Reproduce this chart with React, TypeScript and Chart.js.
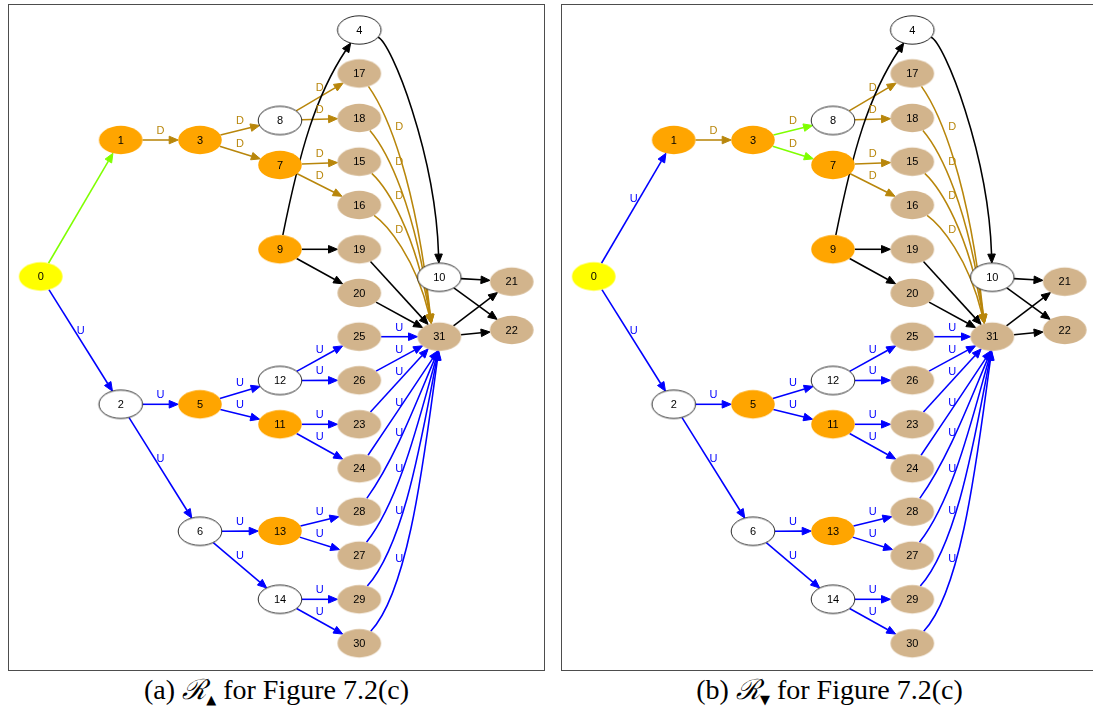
import React, { useEffect, useRef } from 'react';
import { Chart, registerables } from 'chart.js';

Chart.register(...registerables);

// ---- graph data (layout units inside one panel) ----
const nodeIds = [0, 1, 2, 3, 4, 5, 6, 7, 8, 9, 10, 11, 12, 13, 14, 15, 16, 17, 18, 19, 20, 21, 22, 23, 24, 25, 26, 27, 28, 29, 30, 31];
const nodeX = [32.7, 112.7, 112.7, 192, 351.3, 192, 192, 272, 272, 272, 431.3, 272, 272, 272, 272, 351.3, 351.3, 351.3, 351.3, 351.3, 351.3, 503.7, 503.7, 351.3, 351.3, 351.3, 351.3, 351.3, 351.3, 351.3, 351.3, 431.3];
const nodeY = [272.5, 136, 400.3, 136, 26, 400.3, 527.3, 161, 116.5, 245.3, 273.3, 420.3, 376.5, 527, 595.3, 157.7, 201, 69.5, 114, 245.3, 289, 277.7, 326, 420.3, 464.3, 332.7, 376.3, 551.7, 507.7, 595.3, 639.3, 332.7];
const nodeKind = ['start', 'open', 'closed', 'open', 'closed', 'open', 'closed', 'open', 'closed', 'open', 'closed', 'open', 'closed', 'open', 'closed',
  'leaf', 'leaf', 'leaf', 'leaf', 'leaf', 'leaf', 'leaf', 'leaf', 'leaf', 'leaf', 'leaf', 'leaf', 'leaf', 'leaf', 'leaf', 'leaf', 'leaf'];

const edgeFrom = [0, 0, 1, 3, 3, 8, 8, 7, 7, 9, 9, 9, 4, 17, 18, 15, 16, 19, 20, 10, 10, 31, 31, 2, 2, 5, 5, 6, 6, 12, 12, 11, 11, 13, 13, 14, 14, 25, 26, 23, 24, 28, 27, 29, 30];
const edgeTo = [1, 2, 3, 8, 7, 17, 18, 15, 16, 4, 19, 20, 10, 31, 31, 31, 31, 31, 31, 21, 22, 21, 22, 5, 6, 12, 11, 13, 14, 25, 26, 23, 24, 28, 27, 29, 30, 31, 31, 31, 31, 31, 31, 31, 31];
const edgeLabelA = ['', 'U', 'D', 'D', 'D', 'D', 'D', 'D', 'D', '', '', '', '', 'D', 'D', 'D', 'D', '', '', '', '', '', '',
  'U', 'U', 'U', 'U', 'U', 'U', 'U', 'U', 'U', 'U', 'U', 'U', 'U', 'U', 'U', 'U', 'U', 'U', 'U', 'U', 'U', 'U'];
const edgeLabelB = ['U', 'U', 'D', 'D', 'D', 'D', 'D', 'D', 'D', '', '', '', '', 'D', 'D', 'D', 'D', '', '', '', '', '', '',
  'U', 'U', 'U', 'U', 'U', 'U', 'U', 'U', 'U', 'U', 'U', 'U', 'U', 'U', 'U', 'U', 'U', 'U', 'U', 'U', 'U', 'U'];
const highlightA = [[0, 1]];
const highlightB = [[3, 8], [3, 7]];

// ---- styles ----
const PANEL_W = 537;
const PANEL_H = 667;
const RX = 21.8;
const RY = 14.2;
const AL = 9;
const AW = 3.8;
const GOLD = '#B8860B';
const BLUE = '#0000FF';
const GREEN = '#7FFF00';
const FILL: Record<string, string> = { start: '#FFFF00', open: '#FFA500', closed: '#FFFFFF', leaf: '#D2B48C' };
const SANS = '"Liberation Sans", Arial, Helvetica, sans-serif';

type P = { x: number; y: number };

function nodeImage(kind: string): HTMLCanvasElement {
  const c = document.createElement('canvas');
  c.width = 48;
  c.height = 34;
  const g = c.getContext('2d')!;
  g.beginPath();
  g.ellipse(24, 17, RX, RY, 0, 0, Math.PI * 2);
  g.fillStyle = FILL[kind];
  g.fill();
  if (kind === 'closed') {
    g.lineWidth = 0.9;
    g.strokeStyle = '#111';
    g.stroke();
  }
  return c;
}

function clip(c: P, vx: number, vy: number): P {
  const t = 1 / Math.sqrt((vx / RX) ** 2 + (vy / RY) ** 2);
  return { x: c.x + vx * t, y: c.y + vy * t };
}

function bez(p0: P, p1: P, p2: P, p3: P, t: number): P {
  const u = 1 - t;
  const a = u * u * u, b = 3 * u * u * t, c = 3 * u * t * t, d = t * t * t;
  return { x: a * p0.x + b * p1.x + c * p2.x + d * p3.x, y: a * p0.y + b * p1.y + c * p2.y + d * p3.y };
}

const unit = (x: number, y: number): P => { const l = Math.hypot(x, y) || 1; return { x: x / l, y: y / l }; };
const lerp = (a: P, b: P, s: number): P => ({ x: a.x + (b.x - a.x) * s, y: a.y + (b.y - a.y) * s });

function labelOnCurve(start: P, cp1: P, cp2: P, base: P, targetX: number): number {
  let best = bez(start, cp1, cp2, base, 0.5);
  let bestD = Infinity;
  for (let t = 0; t <= 1; t += 0.005) {
    const p = bez(start, cp1, cp2, base, t);
    const d = Math.abs(p.x - targetX);
    if (d < bestD) { bestD = d; best = p; }
  }
  return best.y;
}

function edgeGeom(c0: P, c3: P, from: number, to: number) {
  const dx = c3.x - c0.x;
  const dy = c3.y - c0.y;
  const midX = (c0.x + c3.x) / 2;
  const fan = to === 31 && Math.abs(dy) > 1.2 * Math.abs(dx);
  if (fan && dy > 0) {
    // edges sweeping down into the top of the sink
    const cp1 = { x: c0.x + 0.35 * dx, y: c0.y + 0.15 * dy };
    const cp2 = { x: c3.x - 0.3 * dx, y: c3.y - 0.6 * dy };
    const start = clip(c0, cp1.x - c0.x, cp1.y - c0.y);
    const tip = clip(c3, -0.1 * dx, -0.165 * dx);
    const u = unit(cp2.x - tip.x, cp2.y - tip.y);
    const base = { x: tip.x + AL * u.x, y: tip.y + AL * u.y };
    const ly = labelOnCurve(start, cp1, cp2, base, midX - 10);
    return { curved: true, start, cp1, cp2, base, tip, label: { x: midX, y: ly } };
  }
  if (fan && dy < 0) {
    // edges rising into the bottom of the sink
    const s = Math.max(0, Math.min(1, (Math.abs(dy) - 130) / 175));
    const tip = clip(c3, -0.1 * dx, -0.55 * dy);
    const arc1 = { x: c0.x + 0.63 * dx, y: c0.y + 0.174 * dy };
    const arc2 = { x: c3.x - 0.18 * dx, y: c3.y - 0.37 * dy };
    const dA = unit(arc2.x - tip.x, arc2.y - tip.y);
    const dS = unit(c0.x - tip.x, c0.y - tip.y);
    const d = unit(dS.x + (dA.x - dS.x) * s, dS.y + (dA.y - dS.y) * s);
    const base = { x: tip.x + AL * d.x, y: tip.y + AL * d.y };
    const sv = lerp({ x: tip.x - c0.x, y: tip.y - c0.y }, { x: arc1.x - c0.x, y: arc1.y - c0.y }, s);
    const start = clip(c0, sv.x, sv.y);
    const st1 = lerp(start, base, 1 / 3);
    const st2 = lerp(start, base, 2 / 3);
    const cp1 = lerp(st1, arc1, s);
    const cp2 = lerp(st2, arc2, s);
    const ly = labelOnCurve(start, cp1, cp2, base, midX + 4);
    return { curved: true, start, cp1, cp2, base, tip, label: { x: midX, y: ly } };
  }
  let f: number[] | null = null;
  if (to === 4) f = [0.25, 0.45, 0.55, 0.3];
  else if (from === 4 && to === 10) f = [0.4, 0.05, 0.05, 0.5];
  if (!f) {
    const start = clip(c0, dx, dy);
    const tip = clip(c3, -dx, -dy);
    const len = Math.hypot(dx, dy);
    const base = { x: tip.x - (AL * dx) / len, y: tip.y - (AL * dy) / len };
    const ly = c0.y + (dy * (midX - c0.x)) / dx - 9;
    return { curved: false, start, cp1: start, cp2: base, base, tip, label: { x: midX, y: ly } };
  }
  const cp1 = { x: c0.x + f[0] * dx, y: c0.y + f[1] * dy };
  const cp2 = { x: c3.x - f[2] * dx, y: c3.y - f[3] * dy };
  const start = clip(c0, cp1.x - c0.x, cp1.y - c0.y);
  const tip = clip(c3, cp2.x - c3.x, cp2.y - c3.y);
  const u = unit(cp2.x - tip.x, cp2.y - tip.y);
  const base = { x: tip.x + AL * u.x, y: tip.y + AL * u.y };
  return { curved: true, start, cp1, cp2, base, tip, label: { x: midX, y: (c0.y + c3.y) / 2 } };
}

function GraphPanel({ left, labels, highlight }: { left: number; labels: string[]; highlight: number[][] }) {
  const ref = useRef<HTMLCanvasElement | null>(null);
  useEffect(() => {
    const canvas = ref.current!;
    const images: Record<string, HTMLCanvasElement> = {};
    ['start', 'open', 'closed', 'leaf'].forEach((k) => { images[k] = nodeImage(k); });
    const isHi = (i: number) => highlight.some(([a, b]) => a === edgeFrom[i] && b === edgeTo[i]);
    const edgeColor = (i: number) => (isHi(i) ? GREEN : labels[i] === 'D' ? GOLD : labels[i] === 'U' ? BLUE : '#000000');

    const geoms = (chart: any) => {
      const xs = chart.scales.x, ys = chart.scales.y;
      const pt = (id: number): P => ({ x: xs.getPixelForValue(nodeX[id]), y: ys.getPixelForValue(nodeY[id]) });
      return edgeFrom.map((from, i) => edgeGeom(pt(from), pt(edgeTo[i]), from, edgeTo[i]));
    };

    const borderPlugin = {
      id: 'panelBorder',
      afterDraw(chart: any) {
        const g = chart.ctx;
        g.save();
        g.strokeStyle = '#4d4d4d';
        g.lineWidth = 1;
        g.strokeRect(0.5, 0.5, chart.width - 1, chart.height - 1);
        g.restore();
      },
    };

    const edgePlugin = {
      id: 'edges',
      beforeDatasetsDraw(chart: any) {
        const g = chart.ctx;
        const gs = geoms(chart);
        g.save();
        gs.forEach((e, i) => {
          const col = edgeColor(i);
          g.strokeStyle = col;
          g.fillStyle = col;
          g.lineWidth = 1.55;
          g.beginPath();
          g.moveTo(e.start.x, e.start.y);
          if (e.curved) g.bezierCurveTo(e.cp1.x, e.cp1.y, e.cp2.x, e.cp2.y, e.base.x, e.base.y);
          else g.lineTo(e.base.x, e.base.y);
          g.stroke();
          const vx = e.tip.x - e.base.x, vy = e.tip.y - e.base.y;
          const vl = Math.hypot(vx, vy);
          const px = (-vy / vl) * AW, py = (vx / vl) * AW;
          g.beginPath();
          g.moveTo(e.tip.x, e.tip.y);
          g.lineTo(e.base.x + px, e.base.y + py);
          g.lineTo(e.base.x - px, e.base.y - py);
          g.closePath();
          g.fill();
          g.lineWidth = 1;
          g.stroke();
        });
        g.restore();
      },
      afterDatasetsDraw(chart: any) {
        const g = chart.ctx;
        const gs = geoms(chart);
        g.save();
        g.textAlign = 'center';
        g.textBaseline = 'middle';
        g.font = `11px ${SANS}`;
        gs.forEach((e, i) => {
          const t = labels[i];
          if (!t) return;
          g.fillStyle = t === 'D' ? GOLD : BLUE;
          g.fillText(t, e.label.x, e.label.y);
        });
        const meta = chart.getDatasetMeta(0);
        g.fillStyle = '#000000';
        g.font = `11px ${SANS}`;
        meta.data.forEach((el: any, i: number) => {
          g.fillText(String(nodeIds[i]), el.x, el.y + 0.5);
        });
        g.restore();
      },
    };

    const chart = new Chart(canvas, {
      type: 'scatter',
      data: {
        datasets: [
          {
            data: nodeIds.map((_, i) => ({ x: nodeX[i], y: nodeY[i] })),
            pointStyle: nodeIds.map((_, i) => images[nodeKind[i]]) as any,
            pointRadius: 20,
            pointHoverRadius: 20,
            clip: false as any,
          },
        ],
      },
      options: {
        animation: false,
        responsive: false,
        maintainAspectRatio: false,
        events: [],
        layout: { padding: 0, autoPadding: false } as any,
        scales: {
          x: { type: 'linear', min: 0, max: PANEL_W, display: false },
          y: { type: 'linear', min: 0, max: PANEL_H, reverse: true, display: false },
        },
        plugins: { legend: { display: false }, tooltip: { enabled: false } },
      },
      plugins: [edgePlugin, borderPlugin],
    });
    return () => chart.destroy();
  }, []);
  return (
    <div style={{ position: 'absolute', left, top: 4, width: PANEL_W, height: PANEL_H }}>
      <canvas ref={ref} width={PANEL_W} height={PANEL_H} style={{ display: 'block', width: PANEL_W, height: PANEL_H }} />
    </div>
  );
}

function Caption({ left, tag, mark }: { left: number; tag: string; mark: string }) {
  return (
    <div
      style={{
        position: 'absolute',
        left,
        top: 673,
        width: PANEL_W,
        textAlign: 'center',
        fontFamily: '"Liberation Serif", "DejaVu Serif", serif',
        fontSize: 28,
        lineHeight: '33px',
        color: '#000',
        whiteSpace: 'nowrap',
      }}
    >
      ({tag}) <span style={{ fontStyle: 'italic' }}>ℛ</span>
      <span style={{ fontSize: 13, position: 'relative', top: 5, fontFamily: '"DejaVu Sans", sans-serif' }}>{mark}</span> for Figure 7.2(c)
    </div>
  );
}

export default function App() {
  return (
    <div style={{ position: 'absolute', left: 0, top: 0, width: 1093, height: 710, overflow: 'hidden', background: '#fff' }}>
      <GraphPanel left={8} labels={edgeLabelA} highlight={highlightA} />
      <GraphPanel left={561} labels={edgeLabelB} highlight={highlightB} />
      <Caption left={8} tag="a" mark="▲" />
      <Caption left={561} tag="b" mark="▼" />
    </div>
  );
}
